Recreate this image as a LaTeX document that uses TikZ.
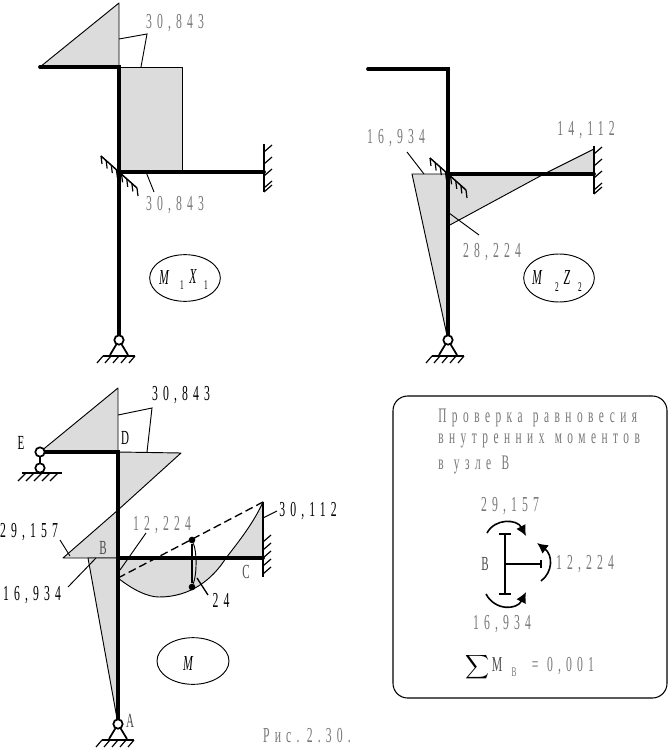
\documentclass[tikz,border=0pt]{standalone}
\usepackage{fontspec}
\usetikzlibrary{arrows.meta,shapes.geometric}
\setmainfont{Liberation Serif}
\newfontfamily\lab[FakeStretch=0.55,LetterSpace=24]{Liberation Serif}
\newfontfamily\txt[FakeStretch=0.55,LetterSpace=26.5]{Liberation Serif}
\definecolor{mom}{HTML}{DCDCDC}
\definecolor{light}{HTML}{777777}
\newcommand{\wgap}{\hspace{0.5em}}
\tikzset{
 frame/.style={line width=2.8pt,line cap=round,line join=miter},
 thinframe/.style={line width=2.4pt},
 moment/.style={fill=mom,draw=black,line width=0.7pt,line join=round},
 leader/.style={draw=black,line width=0.7pt},
 hatch/.style={line width=0.9pt},
 val/.style={font=\lab\fontsize{16}{18}\selectfont,text=light,inner sep=0pt},
 valb/.style={font=\lab\fontsize{16}{18}\selectfont,text=black,inner sep=0pt},
 letter/.style={font=\lab\fontsize{15}{17}\selectfont,text=black,inner sep=0pt},
 body/.style={font=\txt\fontsize{15.5}{17}\selectfont,text=light,inner sep=0pt,anchor=west},
 tag/.style={draw=black,line width=0.7pt,ellipse,inner sep=0pt},
 hinge/.style={circle,draw=black,fill=white,line width=1.3pt,minimum size=7pt,inner sep=0pt},
 dotm/.style={circle,fill=black,minimum size=5pt,inner sep=0pt},
 sym/.style={font=\lab\itshape\fontsize{16}{17}\selectfont,inner sep=0pt},
 sub/.style={font=\lab\fontsize{10}{11}\selectfont,inner sep=0pt},
 turn/.style={line width=1.2pt,-{Latex[length=8pt,width=8pt]}},
 pics/fixedsup/.style={code={
   \draw[line width=1.3pt] (-9,15) -- (0,0) -- (9,15);
   \draw[line width=1.3pt] (-16,16) -- (16,16);
   \foreach \k in {-16,-8,0,8,16} \draw[hatch] (\k,16) -- ({\k-6},23);
 }},
 pics/wallr/.style={code={
   \foreach \k in {#1} \draw[hatch] (0,\k) -- (8,\k-7);
 }},
 pics/skew/.style={code={
   \draw[line width=1.1pt] (-18,-16) -- (18,16);
   \foreach \k in {0,...,7} \draw[hatch] ({-18+\k*36/7},{-16+\k*32/7}) -- ++(1,8);
 }}
}
\begin{document}
\begin{tikzpicture}[x=0.75pt,y=-0.75pt]
\useasboundingbox (0,0) rectangle (668,748);

% ---- panel 1
\coordinate (e1) at (40,67); \coordinate (d1) at (119,67); \coordinate (b1) at (119,172);
\coordinate (c1) at (264,172); \coordinate (a1) at (119,340); \coordinate (t1) at (119,3);
\draw[moment] (e1) -- (t1) -- (d1) -- cycle;
\draw[moment] (d1) rectangle (182,172);
\draw[frame] (e1) -- (d1) -- (b1) -- (c1);
\draw[thinframe] (b1) -- (a1);
\pic at (b1) {skew};
\draw[line width=1.4pt] (264,144) -- (264,192);
\pic at (c1) {wallr={-20,-8,4,16,20}};
\pic at (a1) {fixedsup};
\node[hinge] (ha1) at (a1) {};
\coordinate (l1a) at (119,39); \coordinate (l1b) at (147,34); \coordinate (l1c) at (141,67);
\draw[leader] (l1a) -- (l1b) -- (l1c);
\node[val] (v1) at (175,23) {30,843};
\coordinate (l1d) at (146,172); \coordinate (l1e) at (154,192);
\draw[leader] (l1d) -- (l1e);
\node[val] (v2) at (175,205) {30,843};
\node[tag,minimum width=53pt,minimum height=35pt] (m1) at (185,278) {};
\node[sym] at (164,278) {M}; \node[sub] at (182,285) {1};
\node[sym] at (193,277) {X}; \node[sub] at (206,285) {1};

% ---- panel 2
\coordinate (e2) at (368,69); \coordinate (d2) at (448,69); \coordinate (b2) at (448,174);
\coordinate (c2) at (594,174); \coordinate (a2) at (448,340);
\draw[moment] (412,174) -- (b2) -- (a2) -- cycle;
\draw[moment] (b2) -- (544,174) -- (448,226) -- cycle;
\draw[moment] (544,174) -- (594,149) -- (c2) -- cycle;
\draw[frame] (e2) -- (d2) -- (a2);
\draw[frame] (b2) -- (c2);
\pic at (b2) {skew};
\draw[line width=1.4pt] (594,146) -- (594,194);
\pic at (c2) {wallr={-20,-8,4,16,20}};
\pic at (a2) {fixedsup};
\node[hinge] (ha2) at (a2) {};
\coordinate (l2a) at (407,152); \coordinate (l2b) at (424,174);
\draw[leader] (l2a) -- (l2b);
\node[val] (v3) at (396,138) {16,934};
\coordinate (l2c) at (449,213); \coordinate (l2d) at (479,235);
\draw[leader] (l2c) -- (l2d);
\node[val] (v4) at (492,252) {28,224};
\node[val] (v5) at (586,130) {14,112};
\node[tag,minimum width=53pt,minimum height=36pt] (m2) at (559,278) {};
\node[sym] at (537,278) {M}; \node[sub] at (557,287) {2};
\node[sym] at (567,278) {Z}; \node[sub] at (580,287) {2};

% ---- panel 3
\coordinate (e3) at (40,452); \coordinate (d3) at (118,452); \coordinate (b3) at (118,558);
\coordinate (c3) at (263,558); \coordinate (a3) at (118,724); \coordinate (t3) at (118,388);
\coordinate (w3) at (263,502); \coordinate (p3) at (118,578);
\draw[moment] (e3) -- (t3) -- (d3) -- cycle;
\draw[moment] (d3) -- (181,453) -- (118,510) -- cycle;
\draw[moment] (118,510) -- (63,558) -- (b3) -- cycle;
\draw[moment] (88,558) -- (b3) -- (a3) -- cycle;
\draw[moment] (p3) .. controls (133,590) and (148,597) .. (159,597)
   .. controls (190,597) and (212,580) .. (226,558)
   .. controls (240,540) and (254,522) .. (w3) -- (c3) -- (b3) -- cycle;
\draw[frame] (e3) -- (d3) -- (a3);
\draw[frame] (b3) -- (c3);
\draw[line width=1.4pt] (w3) -- (263,577);
\pic at (c3) {wallr={-16,-8,0,8,16}};
\draw[line width=1pt,dash pattern=on 6pt off 3pt] (p3) -- (w3);
\node[dotm] (dt) at (192,540) {}; \node[dotm] (db) at (192,587) {};
\draw[line width=1.6pt] (dt) -- (db);
\draw[leader] (dt) .. controls (197,552) and (197,574) .. (db);
\draw[line width=2pt] (e3) -- (40,468);
\node[hinge] at (e3) {}; \node[hinge] at (40,468) {};
\draw[line width=1.2pt] (22,473) -- (62,473);
\foreach \k in {26,34,42,50,58} \draw[hatch] (\k,473) -- (\k-8,481);
\pic at (a3) {fixedsup};
\node[hinge] (ha3) at (a3) {};
\draw[leader] (118,415) coordinate (l3a) -- (152,408) coordinate (l3b) -- (147,452) coordinate (l3c);
\node[valb] (v6) at (181,395) {30,843};
\coordinate (l3d) at (263,518); \coordinate (l3e) at (277,511);
\draw[leader] (l3d) -- (l3e);
\node[valb] (v7) at (308,511) {30,112};
\coordinate (l3f) at (60,540); \coordinate (l3g) at (70,556);
\draw[leader] (l3f) -- (l3g);
\node[valb] (v8) at (29,532) {29,157};
\coordinate (l3h) at (68,587); \coordinate (l3i) at (96,558);
\draw[leader] (l3h) -- (l3i);
\node[valb] (v9) at (32,595) {16,934};
\coordinate (l3j) at (146,533); \coordinate (l3k) at (120,570);
\draw[leader] (l3j) -- (l3k);
\node[val] (v10) at (162,525) {12,224};
\coordinate (l3l) at (197,578); \coordinate (l3m) at (208,595);
\draw[leader,line width=1pt] (l3l) -- (l3m);
\node[valb] (v11) at (221,600) {24};
\node[letter,text=black!70] at (103,548) {B};
\node[letter,text=black!70] at (246,572) {C};
\node[letter] at (125,438) {D};
\node[letter] at (21,443) {E};
\node[letter,text=black!70] at (130,721) {A};
\node[tag,minimum width=54pt,minimum height=35pt] (m3) at (193,661) {};
\node[sym] at (188,664) {M};
\node[val] (cap) at (307,736) {Рис.\hspace{0.35em}2.30.};

% ---- check box
\node[draw=black,line width=0.8pt,rounded corners=11pt,minimum width=205.5pt,minimum height=226.5pt,inner sep=0pt] (box) at (530,547) {};
\node[body] at (438,418) {Проверка\wgap равновесия};
\node[body] at (438,441) {внутренних\wgap моментов};
\node[body] at (438,465) {в\wgap узле\wgap В};
\coordinate (tt) at (505,534); \coordinate (tb) at (505,594); \coordinate (tm) at (505,564); \coordinate (tr) at (541,564);
\draw[line width=1.8pt] (tt) -- (tb);
\draw[line width=1.8pt] (tm) -- (tr);
\draw[line width=1.2pt] (499,534) -- (511,534) (499,594) -- (511,594) (541,560) -- (541,568);
\draw[turn] (487,533) .. controls (495,518) and (517,519) .. (526,536);
\draw[turn] (541,581) .. controls (553,572) and (553,555) .. (537,543);
\draw[turn] (486,594) .. controls (495,611) and (517,610) .. (526,592);
\node[val] (w1) at (510,506) {29,157};
\node[val] (w2) at (585,564) {12,224};
\node[val] (w3l) at (502,624) {16,934};
\node[letter,text=black!70] at (485,564) {В};
\node[scale=1.25,inner sep=0pt] (sig) at (478,667) {$\displaystyle\sum$};
\node[font=\lab\fontsize{16}{18}\selectfont,text=black!70,inner sep=0pt] at (497,665) {М};
\node[sub,text=light] at (514,672) {В};
\node[val] (res) at (563,666) {=\hspace{0.4em}0,001};
\end{tikzpicture}
\end{document}
